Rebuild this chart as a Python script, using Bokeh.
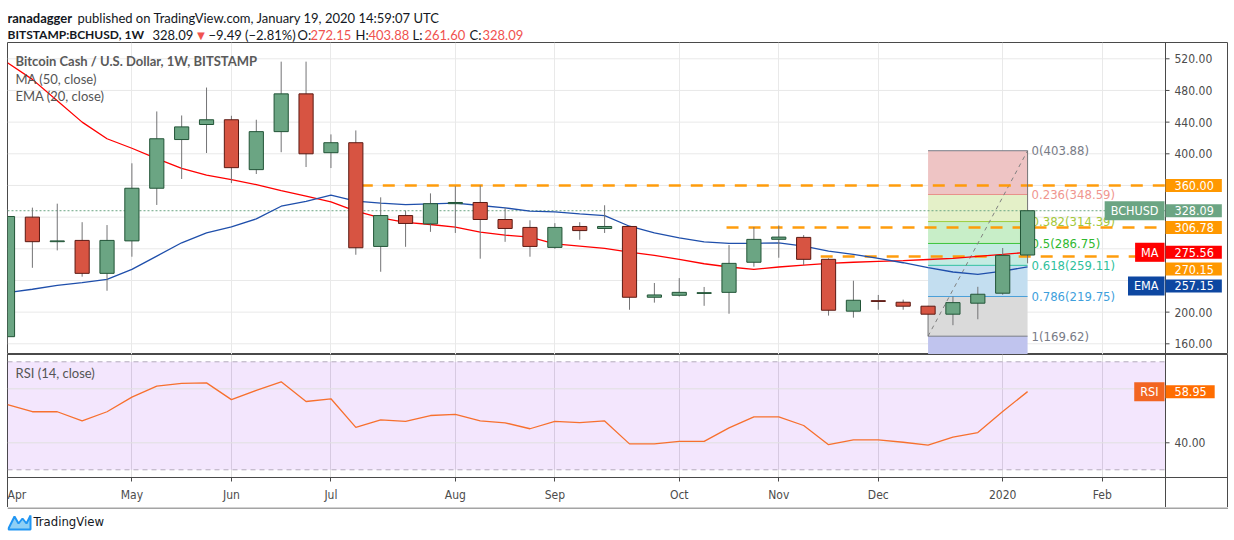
import pandas as pd
from bokeh.plotting import figure
from bokeh.layouts import column, row
from bokeh.models import (Range1d, FixedTicker, Label, Span, BoxAnnotation,
                          ColumnDataSource, Spacer)
from bokeh.core.properties import value
from bokeh.embed import file_html
from bokeh.resources import INLINE

# ---------------- data (weekly BCH/USD, Bitstamp) ----------------
first_week = "2019-04-01"
opens = [169.0, 320.0, 289.0, 290.6, 249.0, 290.0, 356.5, 418.0, 437.0, 443.0,
         380.0, 428.0, 475.7, 401.4, 414.0, 283.0, 322.0, 311.5, 337.0, 338.5,
         317.0, 307.0, 281.8, 308.2, 305.7, 308.2, 218.8, 221.3, 223.6, 225.0,
         263.0, 292.0, 294.4, 266.7, 201.2, 214.5, 212.5, 207.5, 197.4, 211.3,
         223.9, 272.15]
highs = [330.0, 332.0, 337.0, 313.6, 310.0, 388.0, 453.5, 448.4, 483.7, 448.0,
         443.0, 516.4, 516.4, 424.5, 429.5, 345.0, 328.4, 350.0, 359.0, 360.0,
         331.7, 316.0, 312.4, 313.6, 335.0, 309.0, 236.8, 243.0, 231.8, 284.7,
         307.4, 309.5, 297.3, 268.0, 239.7, 221.7, 215.8, 208.0, 220.0, 232.0,
         281.0, 403.88]
lows = [160.0, 256.0, 278.0, 244.8, 227.0, 270.0, 335.4, 368.2, 401.0, 363.0,
        374.5, 402.0, 383.3, 382.0, 272.5, 251.0, 282.5, 301.4, 300.0, 267.5,
        288.8, 270.0, 280.0, 291.4, 300.0, 203.0, 212.0, 219.6, 208.0, 198.0,
        257.4, 268.7, 259.5, 195.6, 193.0, 203.0, 203.0, 169.62, 183.5, 191.0,
        222.0, 261.60]
closes = [320.8, 289.0, 290.0, 249.0, 290.6, 356.5, 419.0, 434.0, 443.0, 382.5,
          428.0, 475.7, 400.0, 414.0, 281.3, 322.0, 312.0, 337.0, 338.5, 317.0,
          305.7, 283.0, 307.0, 303.0, 308.2, 218.8, 221.7, 225.0, 224.6, 261.6,
          291.9, 294.8, 266.7, 202.4, 215.0, 213.5, 207.5, 197.4, 212.0, 222.6,
          271.7, 328.09]
ma50 = [515.0, 494.0, 467.0, 440.0, 419.0, 407.0, 394.0, 381.5, 373.0, 367.4,
        361.0, 353.5, 346.4, 339.2, 327.5, 319.0, 313.5, 310.7, 307.4, 301.0,
        297.3, 294.8, 286.3, 283.4, 280.5, 275.9, 271.7, 266.7, 261.1, 257.0,
        254.0, 257.0, 259.5, 261.5, 263.0, 264.0, 265.0, 266.5, 268.0, 270.5,
        273.0, 275.56]
ema20 = [224.6, 228.9, 233.9, 237.2, 241.5, 254.0, 270.8, 287.6, 300.2, 307.7,
         317.8, 333.8, 340.0, 347.7, 340.1, 337.6, 335.9, 336.7, 337.6, 334.7,
         331.7, 327.5, 326.6, 324.1, 322.0, 308.5, 300.2, 293.9, 288.8, 286.8,
         286.8, 287.6, 283.4, 277.1, 273.0, 267.9, 262.4, 256.1, 250.7, 247.8,
         251.9, 257.15]
rsi14 = [54.1, 51.5, 51.5, 48.1, 51.5, 56.9, 61.0, 62.0, 62.2, 56.0,
         59.4, 62.6, 55.3, 56.3, 45.7, 48.5, 47.9, 50.1, 50.5, 48.1,
         47.4, 45.2, 47.9, 47.5, 48.1, 39.6, 39.6, 40.5, 40.5, 45.5,
         49.6, 49.6, 46.4, 39.3, 41.1, 41.1, 40.2, 39.1, 42.1, 43.8,
         51.6, 58.95]
level_prices = [360.00, 306.78, 270.15]     # horizontal levels drawn on the chart
level_from_bar = [14.2, 28.9, 31.8]         # bar where each drawn level begins
fib_anchor_weeks = ["2019-12-16", "2020-01-13"]   # swing low week, swing high week
fib_ratios = [0, 0.236, 0.382, 0.5, 0.618, 0.786, 1]
price_ticks = [160, 200, 240, 280, 320, 360, 400, 440, 480, 520]
rsi_ticks = [40, 60]
rsi_band = [30, 70]

# ---------------- styling / geometry ----------------
LEFT_PAD = 7
W = 1221
FRAME_W = 1158          # width of the plotting area left of the price scale
HEAD_H = 42
MAIN_H = 312
RSI_H = 123
XAX_H = 30
FOOT_H = 33
BAR_PX = 24.88
USD_PX = 0.7917
P_HI = 540.58
P_LO = P_HI - MAIN_H / USD_PX
X_END = W / BAR_PX
X_AX = FRAME_W / BAR_PX
RSI_PX = 2.7
R_HI = 72.7
R_LO = R_HI - RSI_H / RSI_PX

EDGE = "#4a4a4a"
GRID = "#e9e9e9"
UP, UP_EDGE = "#6ba583", "#225437"
DN, DN_EDGE = "#d75442", "#5b1a13"
WICK = "#737375"
ORANGE = "#ff9800"
MA_C = "#ff0000"
EMA_C = "#1f4fab"
EMA_TAG = "#0d47a1"
RSI_C = "#f7702e"
TXT = "#555555"
AX_TXT = "#4c4c4c"
NARROW = "'Liberation Sans Narrow', 'DejaVu Sans Condensed', 'Liberation Sans', sans-serif"
HEAD = "Lato"

n = len(closes)
idx = list(range(n))
dates = pd.date_range(first_week, periods=n + 8, freq="7D")
month_idx, month_lbl = [], []
for k, d in enumerate(dates):
    if k > 0 and d.month == dates[k - 1].month:
        continue
    if k > X_AX:
        break
    month_idx.append(k)
    month_lbl.append(str(d.year) if d.month == 1 else d.strftime("%b"))


def px_x(px):
    return px / BAR_PX


def px_y(px):
    return P_HI - px / USD_PX


def base_fig(height, yr, **kw):
    return figure(width=W, height=height, x_range=xr, y_range=yr, output_backend="svg",
                  toolbar_location=None, min_border_left=0, min_border_right=0,
                  min_border_top=0, outline_line_color=EDGE,
                  background_fill_color="white", **kw)


# ---------------- header ----------------
h = figure(width=W, height=HEAD_H, x_range=Range1d(0, W), y_range=Range1d(HEAD_H, 0),
           x_axis_location=None, y_axis_location=None, output_backend="svg",
           toolbar_location=None, min_border=0, outline_line_color=None)
h.grid.visible = False
RED_T = "#f0524f"
hx = [0, 70, 0, 145, 187, 201, 290, 303, 348, 361, 405, 417, 462, 475]
hy = [17, 17, 34, 34, 34, 34, 34, 34, 34, 34, 34, 34, 34, 34]
ht = ["ranadagger", "published on TradingView.com, January 19, 2020 14:59:07 UTC",
      "BITSTAMP:BCHUSD, 1W", f"{closes[-1]:.2f}", "\u25bc", "\u22129.49 (\u22122.81%)",
      "O:", f"{opens[-1]:.2f}", "H:", f"{highs[-1]:.2f}", "L:", f"{lows[-1]:.2f}",
      "C:", f"{closes[-1]:.2f}"]
hs = ["bold", "normal", "bold"] + ["normal"] * 11
hf = ["13px", "13px", "12px"] + ["13px"] * 11
hc = ["#131722", "#131722", "#131722", "#131722", RED_T, "#131722", "#131722", RED_T,
      "#131722", RED_T, "#131722", RED_T, "#131722", RED_T]
h.text(x=hx, y=hy, text=ht, text_font_style=hs, text_color=hc, text_font=value(HEAD),
       text_font_size=hf, text_baseline="alphabetic", text_align="left")

# ---------------- main price pane ----------------
xr = Range1d(0, X_END)
p = base_fig(MAIN_H, Range1d(P_LO, P_HI), x_axis_location=None, y_axis_location=None,
             min_border_bottom=0, border_fill_color="white")
p.ygrid.visible = False
p.xgrid.ticker = FixedTicker(ticks=month_idx)
p.xgrid.grid_line_color = GRID
p.segment(x0=0, x1=X_AX, y0=price_ticks, y1=price_ticks, line_color=GRID, line_width=1)

# Fibonacci retracement between the swing low and the swing high
lo_i = dates.get_loc(pd.Timestamp(fib_anchor_weeks[0]))
hi_i = dates.get_loc(pd.Timestamp(fib_anchor_weeks[1]))
f_hi, f_lo = highs[hi_i], lows[lo_i]
fib_vals = [f_hi - r * (f_hi - f_lo) for r in fib_ratios]
fib_bottoms = fib_vals[1:] + [f_hi - 1.618 * (f_hi - f_lo)]
zone_colors = ["#eec4c4", "#e4f0c8", "#c8eec8", "#c4ebe2", "#c3def0", "#dadada", "#c0c4ee"]
fib_line_colors = ["#787b86", "#e8908a", "#9ccc3c", "#3cc43c", "#30c0a0", "#4a9fd8", "#787b86"]
fib_text_colors = ["#787b86", "#f0968f", "#a3c83a", "#2fb82f", "#2fbf9c", "#3f9fdc", "#787b86"]
p.quad(left=lo_i, right=hi_i, top=fib_vals, bottom=fib_bottoms,
       fill_color=zone_colors, line_color=None)
p.segment(x0=lo_i, x1=hi_i, y0=fib_vals, y1=fib_vals, line_color=fib_line_colors, line_width=1)
p.text(x=hi_i + px_x(4), y=fib_vals,
       text=[f"{r:g}({v:.2f})" for r, v in zip(fib_ratios, fib_vals)],
       text_color=fib_text_colors, text_font=value(NARROW), text_font_size=value("13px"),
       text_baseline="middle", text_align="left")
p.line(x=[lo_i, hi_i], y=[f_lo, f_hi], line_color="#808080", line_dash="4 4", line_width=1)

# horizontal levels and last price line
p.segment(x0=level_from_bar, x1=X_AX, y0=level_prices, y1=level_prices,
          line_color=ORANGE, line_width=2.5, line_dash="12 10", line_alpha=0.95)
p.segment(x0=0, x1=X_AX, y0=closes[-1], y1=closes[-1], line_color=UP,
          line_dash="2 2", line_width=1)

# moving averages
p.line(idx, ma50, line_color=MA_C, line_width=1.3)
p.line(idx, ema20, line_color=EMA_C, line_width=1.3)

# candles
src = ColumnDataSource(dict(
    i=idx, o=opens, h=highs, l=lows, c=closes,
    top=[max(o, c) for o, c in zip(opens, closes)],
    bot=[min(o, c) for o, c in zip(opens, closes)],
    fill=[UP if c >= o else DN for o, c in zip(opens, closes)],
    edge=[UP_EDGE if c >= o else DN_EDGE for o, c in zip(opens, closes)],
))
p.segment(x0="i", y0="l", x1="i", y1="h", line_color=WICK, line_width=1, source=src)
p.vbar(x="i", width=0.57, top="top", bottom="bot", fill_color="fill",
       line_color="edge", line_width=1, source=src)

# pane legend
p.text(x=[px_x(8)] * 3, y=[px_y(18), px_y(36), px_y(53)],
       text=["Bitcoin Cash / U.S. Dollar, 1W, BITSTAMP", "MA (50, close)", "EMA (20, close)"],
       text_font_style=["bold", "normal", "normal"], text_color=["#5a5a5a", TXT, TXT],
       text_font=value(HEAD), text_font_size=value("13px"), text_baseline="middle")

# price scale on the right
tags = [  # (value, colour, name tag)
    (level_prices[0], ORANGE, None),
    (closes[-1], UP, "BCHUSD"),
    (level_prices[1], ORANGE, None),
    (ma50[-1], MA_C, "MA"),
    (level_prices[2], ORANGE, None),
    (ema20[-1], EMA_TAG, "EMA"),
]
tags.sort(key=lambda t: -t[0])
prev = -100.0
tag_px = []
for t in tags:
    y = max((P_HI - t[0]) * USD_PX, prev + 16.8)
    tag_px.append(y)
    prev = y

vis_ticks = [t for t in price_ticks
             if all(abs((P_HI - t) * USD_PX - y) >= 11 for y in tag_px)]
p.add_layout(Span(location=X_AX, dimension="height", line_color=EDGE, line_width=1))
p.segment(x0=X_AX, x1=X_AX + px_x(4), y0=vis_ticks, y1=vis_ticks, line_color=EDGE)
p.text(x=X_AX + px_x(9), y=vis_ticks, text=[f"{t:.2f}" for t in vis_ticks],
       text_color=AX_TXT, text_font=value(NARROW), text_font_size=value("12px"),
       text_baseline="middle", text_align="left")

for (val, col, name), y in zip(tags, tag_px):
    p.add_layout(Label(x=X_AX, y=px_y(y), text=f"{val:.2f}", text_align="left",
                       text_baseline="middle", text_color="white", text_font=NARROW,
                       text_font_size="12.5px", background_fill_color=col,
                       padding=dict(left=9, right=8, top=2, bottom=2)))
    if name:
        p.add_layout(Label(x=X_AX, y=px_y(y), x_offset=-1, text=name, text_align="right",
                           text_baseline="middle", text_color="white", text_font=NARROW,
                           text_font_size="12.5px", background_fill_color=col,
                           padding=dict(left=6, right=6, top=2, bottom=2)))

# ---------------- RSI pane ----------------
# edges of the time-scale strip (left edge, price-scale divider, right edge)
strip_lines = ("linear-gradient(to right, #4a4a4a 0px, #4a4a4a 1px, transparent 1px), "
               f"linear-gradient(to right, transparent {FRAME_W}px, #4a4a4a {FRAME_W}px, "
               f"#4a4a4a {FRAME_W + 1}px, transparent {FRAME_W + 1}px), "
               "linear-gradient(to left, #4a4a4a 0px, #4a4a4a 1px, transparent 1px)")
r = base_fig(RSI_H + XAX_H, Range1d(R_LO, R_HI), x_axis_location="below",
             y_axis_location=None, min_border_bottom=XAX_H, border_fill_color=None,
             styles={"background-color": "white", "background-image": strip_lines})
r.ygrid.visible = False
r.xgrid.ticker = FixedTicker(ticks=month_idx)
r.xgrid.grid_line_color = "#e0e0e0"
r.segment(x0=0, x1=X_AX, y0=rsi_ticks, y1=rsi_ticks, line_color="#e0e0e0", line_width=1)
r.add_layout(BoxAnnotation(left=0, right=X_AX, bottom=rsi_band[0], top=rsi_band[1],
                           fill_color="#9b2fee", fill_alpha=0.12, line_alpha=0,
                           level="underlay"))
r.segment(x0=0, x1=X_AX, y0=rsi_band, y1=rsi_band, line_color="#b4aabd",
          line_dash="5 4", line_width=1)
r.line(idx, rsi14, line_color=RSI_C, line_width=1.3)
r.text(x=[px_x(8)], y=[R_HI - 18 / RSI_PX], text=["RSI (14, close)"], text_color=TXT,
       text_font=value(HEAD), text_font_size=value("13px"), text_baseline="middle")

rsi_vis = [t for t in rsi_ticks if abs(t - rsi14[-1]) >= 5]
r.add_layout(Span(location=X_AX, dimension="height", line_color=EDGE, line_width=1))
r.segment(x0=X_AX, x1=X_AX + px_x(4), y0=rsi_vis, y1=rsi_vis, line_color=EDGE)
r.text(x=X_AX + px_x(9), y=rsi_vis, text=[f"{t:.2f}" for t in rsi_vis],
       text_color=AX_TXT, text_font=value(NARROW), text_font_size=value("12px"),
       text_baseline="middle", text_align="left")
r.add_layout(Label(x=X_AX, y=rsi14[-1], text=f"{rsi14[-1]:.2f}", text_align="left",
                   text_baseline="middle", text_color="white", text_font=NARROW,
                   text_font_size="12.5px", background_fill_color="#ff6d00",
                   padding=dict(left=9, right=8, top=2, bottom=2)))
r.add_layout(Label(x=X_AX, y=rsi14[-1], x_offset=-1, text="RSI", text_align="right",
                   text_baseline="middle", text_color="white", text_font=NARROW,
                   text_font_size="12.5px", background_fill_color="#f26522",
                   padding=dict(left=6, right=6, top=2, bottom=2)))

rx = r.xaxis[0]
rx.ticker = FixedTicker(ticks=month_idx)
rx.major_label_overrides = {k: s for k, s in zip(month_idx, month_lbl)}
rx.axis_line_color = EDGE
rx.major_tick_line_color = EDGE
rx.minor_tick_line_color = None
rx.major_tick_out = 4
rx.major_tick_in = 0
rx.major_label_standoff = 6
rx.major_label_text_font = NARROW
rx.major_label_text_font_size = "12px"
rx.major_label_text_color = AX_TXT

# ---------------- footer ----------------
f = figure(width=W, height=FOOT_H, x_range=Range1d(0, W), y_range=Range1d(FOOT_H, 0),
           x_axis_location=None, y_axis_location=None, output_backend="svg",
           toolbar_location=None, min_border=0, outline_line_color=None)
f.grid.visible = False
f.segment(x0=[0], x1=[W], y0=[0.5], y1=[0.5], line_color=EDGE, line_width=1)
f.patch(x=[1, 7, 11, 15, 19, 23, 23, 1], y=[21, 9, 16, 11, 16, 8, 22, 22],
        fill_color="#8fd0f5", line_color="#2196f3", line_width=2)
f.text(x=[26], y=[14], text=["TradingView"], text_color="#131722", text_font=value(NARROW),
       text_font_size=value("13px"), text_baseline="middle")

layout = row(Spacer(width=LEFT_PAD, height=10),
             column(h, p, r, f, spacing=0), spacing=0)
open("out.html", "w").write(file_html(layout, INLINE))
